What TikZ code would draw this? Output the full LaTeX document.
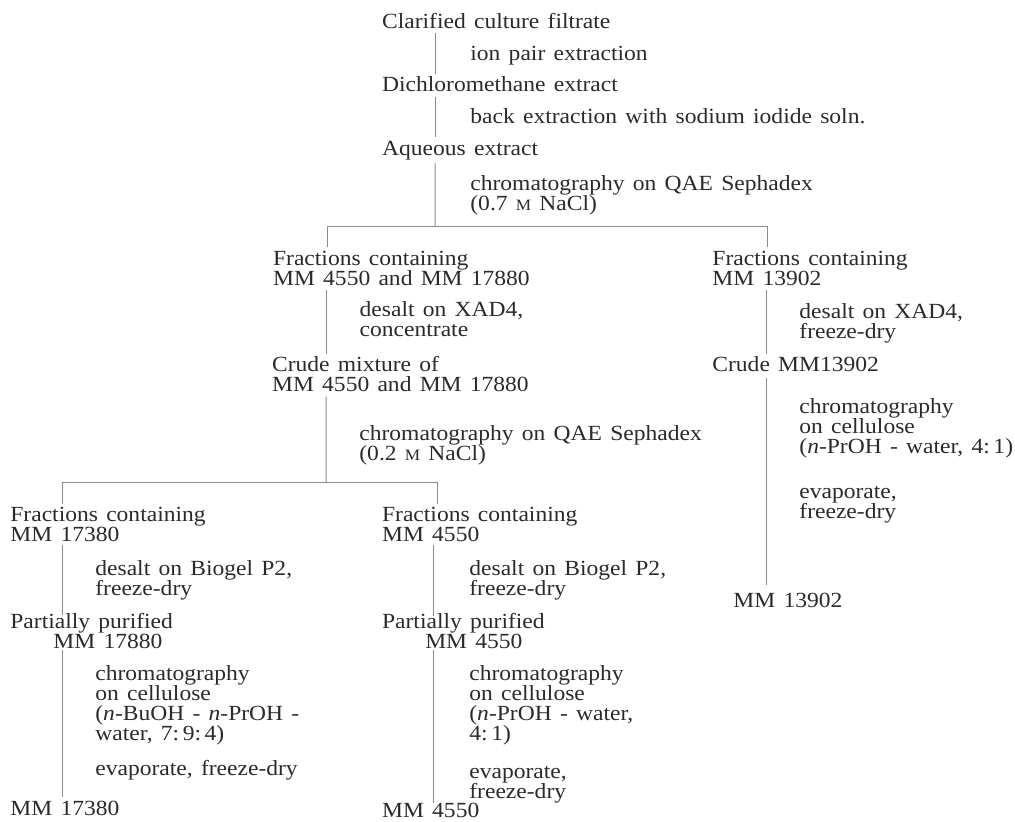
\documentclass[tikz,border=0pt]{standalone}
\usepackage{fontspec}
\setmainfont{Liberation Serif}[WordSpace=1.4,FakeStretch=1.09]
\usetikzlibrary{calc}
\definecolor{ink}{HTML}{2A2A2A}
\definecolor{rule}{HTML}{8C8C8C}
\newcommand{\molM}{{\fontsize{7.9pt}{10pt}\selectfont M}}
\newcommand{\stagefont}{\fontsize{10.8pt}{10pt}\selectfont\setlength{\lineskiplimit}{-20pt}}
\tikzset{stage/.style={anchor=base west,inner sep=0pt,align=left,text=ink,font=\stagefont},treat/.style={stage},link/.style={draw=rule,line width=0.5pt}}

\begin{document}
\begin{tikzpicture}[x=0.5pt,y=-0.5pt]
\useasboundingbox (0,0) rectangle (1015,821);
\node[stage] (filtrate) at (381.7,28.3) {Clarified culture filtrate};
\node[treat] (ionpair) at (470,60) {ion pair extraction};
\node[stage] (dcm) at (381.7,91.7) {Dichloromethane extract};
\node[treat] (backext) at (470,123) {back extraction with sodium iodide soln.};
\node[stage] (aqueous) at (381.7,155) {Aqueous extract};
\node[treat] (qaeA) at (470,210) {chromatography on QAE Sephadex\\(0.7 \molM\ NaCl)};
\node[stage] (fracboth) at (272.7,285) {Fractions containing\\MM 4550 and MM 17880};
\node[stage] (fracC) at (712,285) {Fractions containing\\MM 13902};
\node[treat] (xadA) at (359.3,336.7) {desalt on XAD4,\\concentrate};
\node[stage] (crudeboth) at (271.7,391.7) {Crude mixture of\\MM 4550 and MM 17880};
\node[treat] (qaeB) at (359,460) {chromatography on QAE Sephadex\\(0.2 \molM\ NaCl)};
\node[treat] (xadC) at (799,338) {desalt on XAD4,\\freeze-dry};
\node[stage] (crudeC) at (712,371.7) {Crude MM13902};
\node[treat] (cellC) at (799,453) {chromatography\\on cellulose\\(\textit{n}-PrOH - water, 4:\,1)};
\node[treat] (evapC) at (799,518) {evaporate,\\freeze-dry};
\node[stage] (pureC) at (733,607) {MM 13902};
\node[stage] (fracB) at (10,541.7) {Fractions containing\\MM 17380};
\node[treat] (bioB) at (95,595) {desalt on Biogel P2,\\freeze-dry};
\node[stage] (partB) at (10,648) {Partially purified\\\hspace*{21.5pt}MM 17880};
\node[treat] (cellB) at (95,740) {chromatography\\on cellulose\\(\textit{n}-BuOH - \textit{n}-PrOH -\\water, 7:\,9:\,4)};
\node[treat] (evapB) at (95,775) {evaporate, freeze-dry};
\node[stage] (pureB) at (10,815) {MM 17380};
\node[stage] (fracA) at (381.7,541.7) {Fractions containing\\MM 4550};
\node[treat] (bioA) at (469,595) {desalt on Biogel P2,\\freeze-dry};
\node[stage] (partA) at (381.7,648) {Partially purified\\\hspace*{21.6pt}MM 4550};
\node[treat] (cellA) at (469,740) {chromatography\\on cellulose\\(\textit{n}-PrOH - water,\\4:\,1)};
\node[treat] (evapA) at (469,798) {evaporate,\\freeze-dry};
\node[stage] (pureA) at (381.7,817) {MM 4550};
\coordinate (splitA) at (435,226);
\coordinate (splitB) at (326,482);
\draw[link] ($(filtrate.base west)+(53.3,5)$) -- ($(dcm.base west)+(53.3,-18)$);
\draw[link] ($(dcm.base west)+(53.3,5)$) -- ($(aqueous.base west)+(53.3,-18)$);
\draw[link] ($(aqueous.base west)+(53.3,8)$) -- (splitA);
\draw[link] ($(fracboth.base west)+(54.3,-38)$) |- (splitA) -| ($(fracC.base west)+(55,-38)$);
\draw[link] ($(fracboth.base west)+(53.3,5)$) -- ($(crudeboth.base west)+(54.3,-38)$);
\draw[link] ($(crudeboth.base west)+(54.3,5)$) -- (splitB);
\draw[link] ($(fracB.base west)+(52,-38)$) |- (splitB) -| ($(fracA.base west)+(56,-38)$);
\draw[link] ($(fracC.base west)+(54,5)$) -- ($(crudeC.base west)+(54,-18)$);
\draw[link] ($(crudeC.base west)+(54,6)$) -- ($(pureC.base west)+(33,-22)$);
\draw[link] ($(fracB.base west)+(52,3)$) -- ($(partB.base west)+(52,-33)$);
\draw[link] ($(partB.base west)+(52,2)$) -- ($(pureB.base west)+(52,-18)$);
\draw[link] ($(fracA.base west)+(51.3,3)$) -- ($(partA.base west)+(51.3,-32)$);
\draw[link] ($(partA.base west)+(51.3,2)$) -- ($(pureA.base west)+(51.3,-14)$);
\end{tikzpicture}
\end{document}
